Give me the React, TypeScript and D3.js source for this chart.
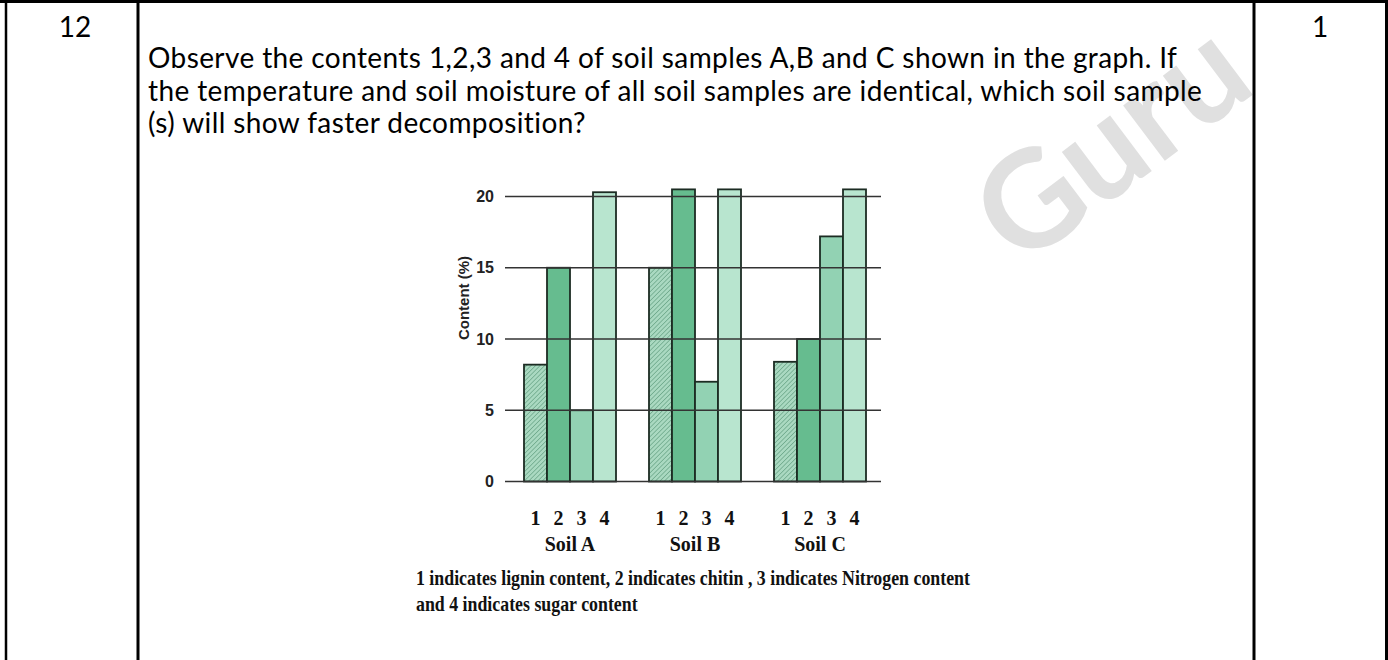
import React from "react";
import * as d3 from "d3";

const soils = ["Soil A", "Soil B", "Soil C"];
const components = ["1", "2", "3", "4"];
const lignin = [8.2, 15, 8.4];
const chitin = [15, 20.5, 10];
const nitrogen = [5, 7, 17.2];
const sugar = [20.3, 20.5, 20.5];
const yTicks = [0, 5, 10, 15, 20];
const questionLines = [
  "Observe the contents 1,2,3 and 4 of soil samples A,B and C shown in the graph. If",
  "the temperature and soil moisture of all soil samples are identical, which soil sample",
  "(s) will show faster decomposition?",
];
const legendLines = [
  "1 indicates lignin content, 2 indicates chitin , 3 indicates Nitrogen content",
  "and 4 indicates sugar content",
];
const questionNo = "12";
const marks = "1";
const yLabel = "Content (%)";
const watermark = "Guru";

const seriesValues = [lignin, chitin, nitrogen, sugar];
const fills = ["url(#hatch)", "#66bc8f", "#92d2b3", "#b8e5cf"];

export default function App() {
  const W = 1388;
  const H = 660;
  const y = d3.scaleLinear().domain([0, 20]).range([481.5, 196.5]);
  const x0 = d3.scaleBand().domain(soils).range([505, 885]).paddingInner(0.264).paddingOuter(0.152);
  const x1 = d3.scaleBand().domain(components).range([0, x0.bandwidth()]).padding(0);
  const gridX1 = 505;
  const gridX2 = 881;

  const bars: { x: number; w: number; v: number; fill: string; key: string }[] = [];
  soils.forEach((s, si) => {
    components.forEach((c, ci) => {
      bars.push({
        x: (x0(s) as number) + (x1(c) as number),
        w: x1.bandwidth(),
        v: seriesValues[ci][si],
        fill: fills[ci],
        key: s + c,
      });
    });
  });

  return (
    <svg
      width={W}
      height={H}
      style={{ position: "absolute", left: 0, top: 0, display: "block", background: "#fff" }}
    >
      <defs>
        <pattern id="hatch" width="3.2" height="3.2" patternUnits="userSpaceOnUse" patternTransform="rotate(45)">
          <rect width="3.2" height="3.2" fill="#aad9c1" />
          <line x1="0" y1="0" x2="0" y2="3.2" stroke="#4f8f70" strokeWidth="1" />
        </pattern>
      </defs>
      {/* watermark */}
      <text
        transform="translate(1020,270) rotate(-37)"
        fontFamily="Lato"
        fontWeight="bold"
        fontSize={135}
        fill="#e0e0e0"
      >
        {watermark}
      </text>

      {/* table borders */}
      <line x1={0} x2={W} y1={1.5} y2={1.5} stroke="#000" strokeWidth={3} />
      <line x1={6} x2={6} y1={0} y2={H} stroke="#000" strokeWidth={2.5} />
      <line x1={138} x2={138} y1={0} y2={H} stroke="#000" strokeWidth={3} />
      <line x1={1254} x2={1254} y1={0} y2={H} stroke="#000" strokeWidth={3} />
      <line x1={1386.5} x2={1386.5} y1={0} y2={H} stroke="#000" strokeWidth={3} />

      <text x={75} y={37} textAnchor="middle" fontFamily="Lato" fontSize={28} fill="#000">
        {questionNo}
      </text>
      <text x={1320} y={37} textAnchor="middle" fontFamily="Lato" fontSize={28} fill="#000">
        {marks}
      </text>
      {questionLines.map((t, i) => (
        <text
          key={i}
          x={148}
          y={68 + i * 32.5}
          fontFamily="Lato"
          fontSize={28}
          letterSpacing={0.4}
          fill="#000"
        >
          {t}
        </text>
      ))}

      {/* bars */}
      {bars.map((b) => (
        <rect
          key={b.key}
          x={b.x}
          y={y(b.v)}
          width={b.w}
          height={y(0) - y(b.v)}
          fill={b.fill}
          stroke="#1c2c23"
          strokeWidth={1.8}
        />
      ))}
      {/* gridlines over bars */}
      {yTicks.map((t) => (
        <g key={t}>
          <line x1={gridX1} x2={gridX2} y1={y(t)} y2={y(t)} stroke="#333" strokeWidth={1.6} />
          <text
            x={494}
            y={y(t) + 5.5}
            textAnchor="end"
            fontFamily="'Liberation Sans Narrow', 'Liberation Sans'"
            fontWeight="bold"
            fontSize={16}
            fill="#222"
          >
            {t}
          </text>
        </g>
      ))}
      <text
        transform={`translate(469,298) rotate(-90)`}
        textAnchor="middle"
        fontFamily="'Liberation Sans'"
        fontWeight="bold"
        fontSize={15}
        fill="#222"
      >
        {yLabel}
      </text>

      {/* category labels */}
      {bars.map((b, i) => (
        <text
          key={"n" + b.key}
          x={b.x + b.w / 2}
          y={525}
          textAnchor="middle"
          fontFamily="'Liberation Serif'"
          fontWeight="bold"
          fontSize={20}
          fill="#111"
        >
          {components[i % 4]}
        </text>
      ))}
      {soils.map((s) => (
        <text
          key={s}
          x={(x0(s) as number) + x0.bandwidth() / 2}
          y={551}
          textAnchor="middle"
          fontFamily="'Liberation Serif'"
          fontWeight="bold"
          fontSize={20}
          fill="#111"
        >
          {s}
        </text>
      ))}
      {legendLines.map((t, i) => (
        <text
          key={"l" + i}
          x={416}
          y={585 + i * 26}
          fontFamily="'Liberation Serif'"
          fontWeight="bold"
          fontSize={21}
          fill="#111"
          transform={`translate(416,0) scale(0.85,1) translate(-416,0)`}
        >
          {t}
        </text>
      ))}
    </svg>
  );
}
